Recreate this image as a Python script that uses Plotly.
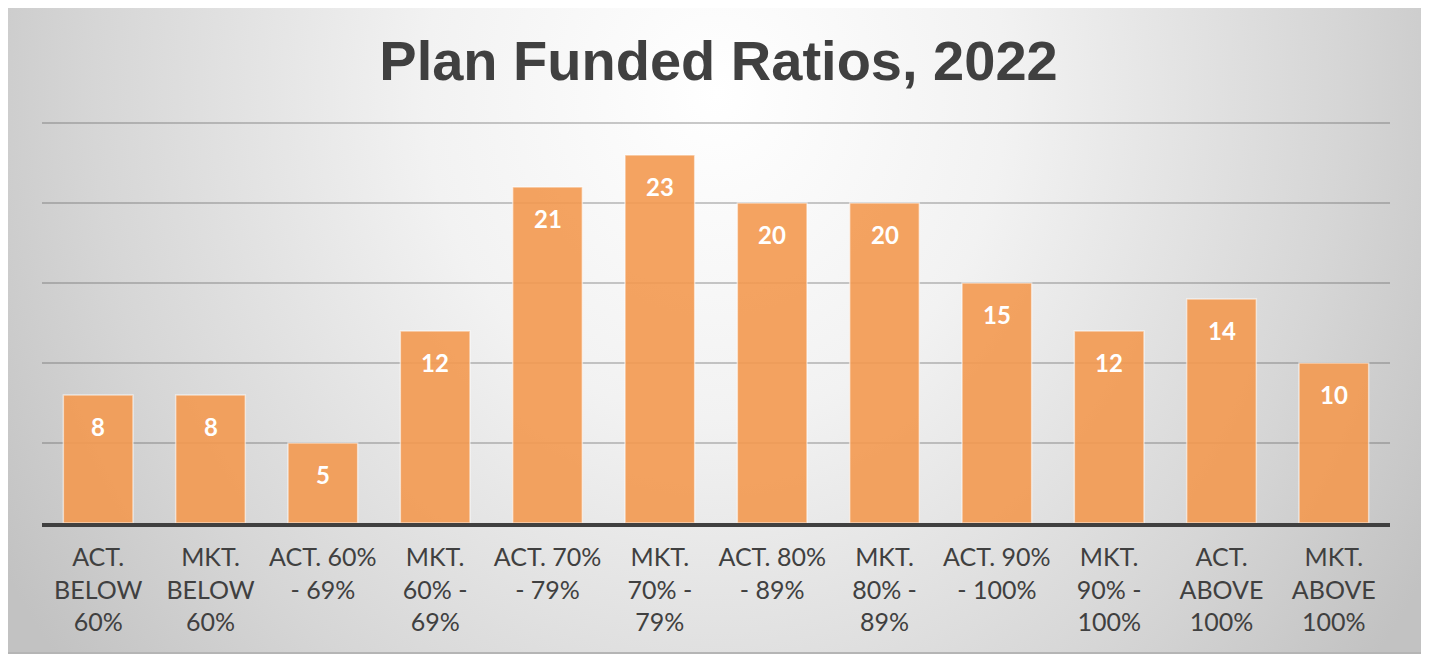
import base64
import plotly.graph_objects as go

categories = [
    "ACT.<br>BELOW<br>60%", "MKT.<br>BELOW<br>60%", "ACT. 60%<br>- 69%", "MKT.<br>60% -<br>69%",
    "ACT. 70%<br>- 79%", "MKT.<br>70% -<br>79%", "ACT. 80%<br>- 89%", "MKT.<br>80% -<br>89%",
    "ACT. 90%<br>- 100%", "MKT.<br>90% -<br>100%", "ACT.<br>ABOVE<br>100%", "MKT.<br>ABOVE<br>100%",
]
plan_counts = [8, 8, 5, 12, 21, 23, 20, 20, 15, 12, 14, 10]
y_ticks = [0, 5, 10, 15, 20, 25]

# the page body has an 8px margin, so the figure starts at (8, 8) in the window
OFF = 8
W, H = 1429 - OFF, 654 - OFF
left, top = 42 - OFF, 118 - OFF
right, bottom = 1429 - 1390, 654 - 523
pw, ph = W - left - right, H - top - bottom
y_max = 25 * (523 - 118) / (523 - 123)  # a little headroom so the 25 gridline is drawn

# radial grey background like the Excel chart area
svg = """<svg xmlns='http://www.w3.org/2000/svg' width='1418' height='650' viewBox='0 0 1418 650' preserveAspectRatio='none'>
<defs><radialGradient id='g' gradientUnits='userSpaceOnUse' cx='709' cy='90' r='830'
 gradientTransform='translate(709 90) scale(1 1.12) translate(-709 -90)'>
<stop offset='0' stop-color='#ffffff'/><stop offset='0.35' stop-color='#f2f2f2'/>
<stop offset='0.75' stop-color='#d6d6d6'/><stop offset='1' stop-color='#c2c2c2'/></radialGradient></defs>
<rect width='1418' height='650' fill='url(#g)'/></svg>"""
bg_src = "data:image/svg+xml;base64," + base64.b64encode(svg.encode()).decode()


def px_x(p):
    # p is a window pixel
    return (p - OFF - left) / pw


def px_y(p):
    return (H - bottom - (p - OFF)) / ph


fig = go.Figure()

fig.add_trace(
    go.Bar(
        x=categories,
        y=plan_counts,
        marker=dict(color="rgba(243,153,80,0.9)", line=dict(color="rgba(255,255,255,0.55)", width=1.5)),
        width=0.62,
        hoverinfo="x+y",
    )
)

for c, v in zip(categories, plan_counts):
    fig.add_annotation(
        x=c, y=v, text=f"<b>{v}</b>", showarrow=False, yshift=-31,
        font=dict(family="Lato", size=24, color="white"),
    )

fig.add_layout_image(
    source=bg_src, xref="paper", yref="paper",
    x=px_x(7), y=px_y(3), sizex=px_x(1425) - px_x(7), sizey=px_y(3) - px_y(653),
    xanchor="left", yanchor="top", sizing="stretch", layer="below",
)
fig.add_shape(
    type="rect", xref="paper", yref="paper",
    x0=px_x(7), x1=px_x(1425), y0=px_y(653), y1=px_y(3),
    line=dict(color="#b5b5b5", width=2), layer="below",
)

fig.update_layout(
    width=W,
    height=H,
    margin=dict(l=left, r=right, t=top, b=bottom),
    title=dict(
        text="<b>Plan Funded Ratios, 2022</b>",
        x=0.5, xanchor="center", y=1 - (60 - OFF) / H, yanchor="middle", yref="container",
        font=dict(family="Liberation Sans", size=56, color="#404040"),
    ),
    paper_bgcolor="white",
    plot_bgcolor="rgba(0,0,0,0)",
    showlegend=False,
    xaxis=dict(
        showgrid=False, showline=True, linecolor="#404040", linewidth=4,
        tickfont=dict(family="Lato", size=25, color="#404040"),
        ticks="", ticklabelstandoff=9,
    ),
    yaxis=dict(
        range=[0, y_max], tickvals=y_ticks, showticklabels=False,
        showgrid=True, gridcolor="rgba(90,90,90,0.32)", gridwidth=2,
        zeroline=False,
    ),
)

fig.write_html("out.html")
